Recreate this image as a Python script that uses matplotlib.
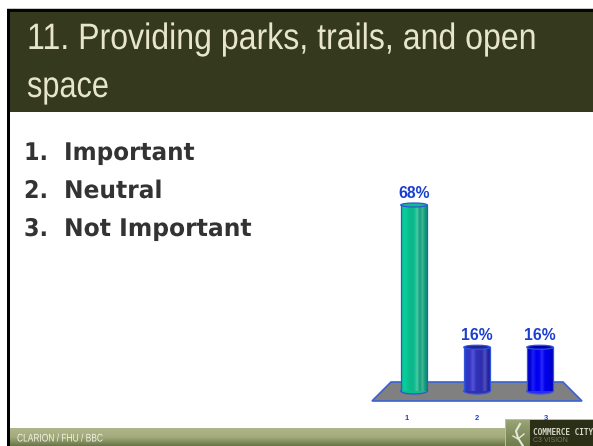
import numpy as np
import matplotlib
matplotlib.use("Agg")
import matplotlib.pyplot as plt
from matplotlib.patches import Rectangle, Polygon, Ellipse
from matplotlib.patheffects import AbstractPathEffect
from matplotlib.transforms import Affine2D
from matplotlib.colors import LinearSegmentedColormap

title_lines = ["11. Providing parks, trails, and open", "space"]
option_nums = ["1.", "2.", "3."]
option_names = ["Important", "Neutral", "Not Important"]
categories = [1, 2, 3]
values = [68, 16, 16]
labels = ["68%", "16%", "16%"]
footer = "CLARION / FHU / BBC"

W, H = 593, 446
fig = plt.figure(figsize=(W / 100, H / 100), dpi=100, facecolor="white")
bg = fig.add_axes([0, 0, 1, 1])
bg.set_xlim(0, W); bg.set_ylim(H, 0); bg.axis("off")


class Stretch(AbstractPathEffect):
    """Scale glyph outlines about the text anchor (display pixels)."""
    def __init__(self, x0, y0, sx=1.0, sy=1.0):
        super().__init__()
        self.t = Affine2D().translate(-x0, -y0).scale(sx, sy).translate(x0, y0)

    def draw_path(self, renderer, gc, tpath, affine, rgbFace=None):
        renderer.draw_path(gc, tpath, affine + self.t, rgbFace)


def fit_text(x, y, s, target_w, color, fontsize, sy=1.0, zorder=3, **kw):
    """Text whose left edge/baseline is (x, y) px, drawn target_w px wide."""
    t = bg.text(x, y, s, color=color, fontsize=fontsize, va="baseline", zorder=zorder, **kw)
    w = t.get_window_extent(fig.canvas.get_renderer()).width
    t.set_path_effects([Stretch(x, H - y, target_w / w, sy)])
    return t


# frame and header
bg.add_patch(Rectangle((7, 8.2), W - 7, 1, fc="#c8c8c8", ec="none"))
bg.add_patch(Rectangle((7, 9), W - 7, 103, fc="#353a1e", ec="none"))
bg.add_patch(Rectangle((7, 9), W - 7, 3, fc="#050503", ec="none"))
bg.add_patch(Rectangle((7, 9), 3, H - 9, fc="black", ec="none"))
fit_text(27, 49, title_lines[0], 510, "#e8e5cf", 21.5, sy=1.23, family="Liberation Sans")
fit_text(27, 97, title_lines[1], 82, "#e8e5cf", 21.5, sy=1.23, family="Liberation Sans")

name_widths = [130, 98, 187]
for n, name, w, y in zip(option_nums, option_names, name_widths, [160, 198, 236]):
    fit_text(24, y, n, 24, "#333333", 17.5, family="DejaVu Sans", weight="bold")
    fit_text(64, y, name, w, "#333333", 17.5, family="DejaVu Sans", weight="bold")

# footer
g = np.linspace(0, 1, 64)[:, None]
foot = LinearSegmentedColormap.from_list("f", ["#aeb58a", "#a3ab7c", "#677546"])
bg.imshow(g, extent=(10, W, H, 428), cmap=foot, aspect="auto", zorder=1)
fit_text(17, 441.5, footer, 86, "#f2f2e6", 8, family="Liberation Sans")

# logo
bg.imshow(np.linspace(0, 1, 16)[:, None], extent=(505, 530, H, 419), aspect="auto", zorder=2,
          cmap=LinearSegmentedColormap.from_list("l", ["#9aa578", "#6f7d4c"]))
bg.add_patch(Rectangle((530, 420), W - 530, H - 420, fc="#2b2f16", ec="none", zorder=2))
bg.add_patch(Rectangle((505, 419), W - 505, 1.2, fc="#b9bea4", ec="none", zorder=2))
bg.add_patch(Rectangle((505, 419), 1.2, H - 419, fc="#b9bea4", ec="none", zorder=2))
bg.plot([520, 516, 518, 523], [424, 431, 438, 446], color="#e6e8d8", lw=1.5, zorder=3)
bg.plot([513, 518, 524], [436, 439, 434], color="#e6e8d8", lw=1.0, zorder=3)
bg.text(533, 435, "COMMERCE CITY", color="#d8d8c8", fontsize=5.6, family="DejaVu Sans Mono",
        weight="bold", va="baseline", zorder=3)
bg.text(533, 442.5, "C3 VISION", color="#777c5e", fontsize=5, family="Liberation Sans", va="baseline", zorder=3)

# floor
bg.add_patch(Polygon([(372, 401), (391, 382), (563, 382), (582, 401)], fc="#808080", ec="#3a62d4", lw=1.2, zorder=2))
bg.set_xlim(0, W); bg.set_ylim(H, 0)

# bars
px_l, px_r, px_t, px_b = 351, 591, 205, 391
ax = fig.add_axes([px_l / W, 1 - px_b / H, (px_r - px_l) / W, (px_b - px_t) / H])
ax.patch.set_alpha(0)
ax.axis("off")
ax.set_xlim(0, (px_r - px_l) / 63)
ax.set_ylim(0, 68)
width = 26.5 / 63
cmaps = [
    ["#10b88a", "#06cf9c", "#08c997", "#0bbd8c", "#0db58a", "#0fbb90", "#4cc9a8", "#0e9f78", "#45b596", "#0d9a75", "#0c9070"],
    ["#3c48c8", "#3333c4", "#3636c8", "#5555d4", "#3232bc", "#3030b4", "#2e2eae", "#5050c0", "#2525a0", "#22229a"],
    ["#0000b8", "#0000d8", "#2020f0", "#0000f0", "#0000f5", "#2a2af8", "#0000f0", "#0000e0", "#0000d0", "#0000b8"],
]
tops = ["#12bb8e", "#22229a", "#0000b0"]
edge = "#2f55d8"
dy = 68 / 186
for i, (x, v, lab, cm, tc) in enumerate(zip(categories, values, labels, cmaps, tops)):
    bar = ax.bar(x, v, width=width, color="none", edgecolor="none", zorder=3)[0]
    l = x - width / 2
    c = LinearSegmentedColormap.from_list("b", cm)
    im = ax.imshow(np.linspace(0, 1, 128)[None, :], extent=(l, l + width, 0, v), cmap=c, aspect="auto", zorder=3)
    im.set_clip_path(bar)
    for ex in (l, l + width):
        ax.plot([ex, ex], [0, v], color=edge, lw=0.9, zorder=4, solid_capstyle="butt", clip_on=False)
    ax.add_patch(Ellipse((x, 0), width, 6 * dy, fc=cm[len(cm) // 2], ec=edge, lw=0.9, zorder=2.9, clip_on=False))
    ax.add_patch(Ellipse((x, v), width, 4 * dy, fc=tc, ec=edge, lw=0.9, zorder=4.5, clip_on=False))
    ax.annotate(lab, (x, v), xytext=(0, 5.2), textcoords="offset points", ha="center", va="baseline",
                color="#1a3fd0", fontsize=11.3, family="Liberation Sans", weight="bold", annotation_clip=False)
    ax.annotate(str(x), (x, 0), xytext=((i - 1) * 5 - 0.5 + (0 if i != 1 else 0.5), -17.5), textcoords="offset points",
                ha="center", va="top", color="#1a3fd0", fontsize=5.4, family="Liberation Sans", weight="bold",
                annotation_clip=False)
ax.set_xlim(0, (px_r - px_l) / 63)
ax.set_ylim(0, 68)
fig.savefig("out.png", dpi=100)
